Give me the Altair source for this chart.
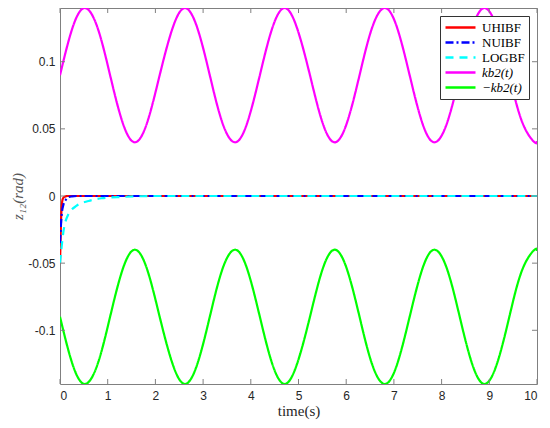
import altair as alt
import pandas as pd

# ---- data ----
series_names = ["UHIBF", "NUIBF", "LOGBF", "kb2(t)", "−kb2(t)"]
series_colors = ["#FF0000", "#0000FF", "#00FFFF", "#FF00FF", "#00FF00"]
series_dash = [[1, 0], [8, 3, 2, 3], [8, 6], [1, 0], [1, 0]]

t_uhibf = [0, 0.01, 0.02, 0.03, 0.04, 0.06, 0.1, 0.15, 10]
v_uhibf = [-0.05, -0.035, -0.02, -0.011, -0.006, -0.002, -0.0005, 0, 0]

t_nuibf = [0, 0.03, 0.07, 0.12, 0.17, 0.25, 0.35, 10]
v_nuibf = [-0.035, -0.016, -0.0067, -0.003, -0.001, -0.0003, 0, 0]

t_logbf = [0, 0.07, 0.17, 0.35, 0.6, 0.87, 1.3, 2.0, 10]
v_logbf = [-0.05, -0.027, -0.014, -0.0072, -0.0037, -0.0017, -0.0007, 0, 0]

t_bound = [0, 0.26, 0.52, 0.79, 1.05, 1.31, 1.57, 1.83, 2.09, 2.36,
           2.62, 2.88, 3.14, 3.40, 3.67, 3.93, 4.19, 4.45, 4.71, 4.97,
           5.24, 5.50, 5.76, 6.02, 6.28, 6.54, 6.81, 7.07, 7.33, 7.59,
           7.85, 8.12, 8.38, 8.64, 8.90, 9.16, 9.42, 9.69, 9.95, 10.0]
v_kb2 = [0.09, 0.125, 0.14, 0.125, 0.09, 0.055, 0.04, 0.055, 0.09, 0.125,
         0.14, 0.125, 0.09, 0.055, 0.04, 0.055, 0.09, 0.125, 0.14, 0.125,
         0.09, 0.055, 0.04, 0.055, 0.09, 0.125, 0.14, 0.125, 0.09, 0.055,
         0.04, 0.055, 0.09, 0.125, 0.14, 0.125, 0.09, 0.055, 0.04, 0.041]
v_negkb2 = [-0.09, -0.125, -0.14, -0.125, -0.09, -0.055, -0.04, -0.055, -0.09, -0.125,
            -0.14, -0.125, -0.09, -0.055, -0.04, -0.055, -0.09, -0.125, -0.14, -0.125,
            -0.09, -0.055, -0.04, -0.055, -0.09, -0.125, -0.14, -0.125, -0.09, -0.055,
            -0.04, -0.055, -0.09, -0.125, -0.14, -0.125, -0.09, -0.055, -0.04, -0.041]

x_ticks = [0, 1, 2, 3, 4, 5, 6, 7, 8, 9, 10]
y_ticks = [-0.1, -0.05, 0, 0.05, 0.1]

# ---- tables ----
def table(name, ts, vs):
    return pd.DataFrame({"series": name, "t": ts, "v": vs})

trans_df = pd.concat([
    table(series_names[0], t_uhibf, v_uhibf),
    table(series_names[1], t_nuibf, v_nuibf),
    table(series_names[2], t_logbf, v_logbf),
])
bound_df = pd.concat([
    table(series_names[3], t_bound, v_kb2),
    table(series_names[4], t_bound, v_negkb2),
])
xt_df = pd.DataFrame({"t": x_ticks})
yt_df = pd.DataFrame({"v": y_ticks})

W, H = 477, 376
TICK = 5
axis_color = "#262626"
tick_color = "#808080"

legend = alt.Legend(
    title=None, orient="top-right", offset=8, symbolType="stroke",
    symbolSize=900, symbolStrokeWidth=2.5, clipHeight=15, rowPadding=0,
    padding=4, strokeColor="#333333", fillColor="white",
    labelFont="Liberation Serif", labelFontSize=13, labelColor="black",
    labelFontStyle={"expr": "indexof(datum.label, 'kb2') >= 0 ? 'italic' : 'normal'"},
    labelOffset=5,
)

x_scale = alt.Scale(domain=[0, 10], nice=False)
y_scale = alt.Scale(domain=[-0.14, 0.14], nice=False)

x_axis = alt.Axis(
    title="time(s)", values=x_ticks, format="d", tickSize=0, domain=False, grid=False,
    labelFont="Liberation Sans", labelFontSize=12, labelColor=axis_color, labelPadding=6,
    titleFont="Liberation Serif", titleFontSize=15, titleFontWeight="normal",
    titleColor=axis_color, titlePadding=2)
y_axis = alt.Axis(
    title="z₁₂(rad)", values=y_ticks, tickSize=0, domain=False, grid=False,
    labelExpr="replace(format(datum.value, '.2~f'), '−', '-')",
    labelFont="Liberation Sans", labelFontSize=12, labelColor=axis_color, labelPadding=5,
    titleFont="Liberation Serif", titleFontSize=15, titleFontWeight="normal",
    titleFontStyle="italic", titleColor="#555555", titlePadding=2)

x_enc = alt.X("t:Q", scale=x_scale, axis=x_axis)
y_enc = alt.Y("v:Q", scale=y_scale, axis=y_axis)

color = alt.Color("series:N", scale=alt.Scale(domain=series_names, range=series_colors), legend=legend)
dash = alt.StrokeDash("series:N", scale=alt.Scale(domain=series_names, range=series_dash), legend=legend)

trans = alt.Chart(trans_df).mark_line(interpolate="monotone", strokeWidth=2.2, clip=True).encode(
    x=x_enc, y=y_enc, color=color, strokeDash=dash, order=alt.Order("t:Q"))
bounds = alt.Chart(bound_df).mark_line(interpolate="natural", strokeWidth=2.2, clip=True).encode(
    x=x_enc, y=y_enc, color=color, strokeDash=dash)

xb = alt.Chart(xt_df).mark_rule(color=tick_color, strokeWidth=1).encode(
    x=x_enc, y=alt.value(H), y2=alt.value(H - TICK))
xtop = alt.Chart(xt_df).mark_rule(color=tick_color, strokeWidth=1).encode(
    x=x_enc, y=alt.value(0), y2=alt.value(TICK))
yl = alt.Chart(yt_df).mark_rule(color=tick_color, strokeWidth=1).encode(
    y=y_enc, x=alt.value(0), x2=alt.value(TICK))
yr = alt.Chart(yt_df).mark_rule(color=tick_color, strokeWidth=1).encode(
    y=y_enc, x=alt.value(W), x2=alt.value(W - TICK))

chart = alt.layer(trans, bounds, xb, xtop, yl, yr).properties(
    width=W, height=H,
    autosize=alt.AutoSizeParams(type="none"),
    padding={"left": 52, "top": 0, "right": 5, "bottom": 36},
    background="white",
).configure_view(stroke=tick_color, strokeWidth=1)

chart.save("out.html", embed_options={"renderer": "svg", "actions": False})
